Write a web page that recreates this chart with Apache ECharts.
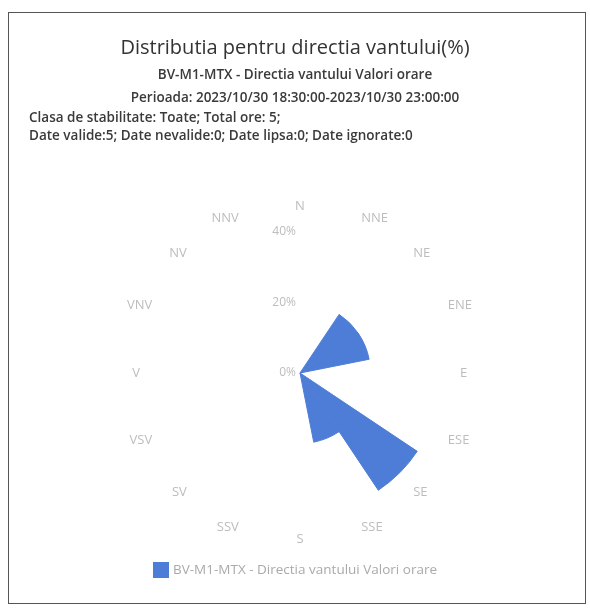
<!DOCTYPE html>
<html>
<head>
<meta charset="utf-8">
<script src="https://cdn.jsdelivr.net/npm/echarts@6/dist/echarts.min.js"></script>
<style>
html,body{margin:0;padding:0;background:#fff;}
#frame{position:absolute;left:8px;top:12px;width:576px;height:590px;border:1.5px solid #555;}
#chart{position:absolute;left:0;top:0;width:590px;height:612px;}
</style>
</head>
<body>
<div id="frame"></div>
<div id="chart"></div>
<script>
const directions = ['N','NNE','NE','ENE','E','ESE','SE','SSE','S','SSV','SV','VSV','V','VNV','NV','NNV'];
const frequency = [0,0,20,20,0,0,40,20,0,0,0,0,0,0,0,0];
const radiusTicks = [0,20,40];
const seriesName = 'BV-M1-MTX - Directia vantului Valori orare';
const titleText = 'Distributia pentru directia vantului(%)';
const infoLines = [
  'BV-M1-MTX - Directia vantului Valori orare',
  'Perioada: 2023/10/30 18:30:00-2023/10/30 23:00:00',
  'Clasa de stabilitate: Toate; Total ore: 5;',
  'Date valide:5; Date nevalide:0; Date lipsa:0; Date ignorate:0'
];

const chart = echarts.init(document.getElementById('chart'), null, {renderer:'canvas'});
const font = '"Open Sans", "Noto Sans", sans-serif';
const info = {fontSize:13.5, fontWeight:600, color:'#3a3a3a', fontFamily:font};
chart.setOption({
  animation:false,
  textStyle:{fontFamily:font},
  title:[
    {text:titleText, left:'center', top:33, textStyle:{fontSize:20, fontWeight:'normal', color:'#333', fontFamily:font}},
    {text:infoLines[0], left:'center', top:63, textStyle:info},
    {text:infoLines[1], left:'center', top:86, textStyle:info},
    {text:infoLines[2], left:24, top:106, textStyle:info},
    {text:infoLines[3], left:24, top:124, textStyle:info}
  ],
  legend:{
    bottom:29, left:'center', icon:'rect', itemWidth:14, itemHeight:14, itemGap:5,
    textStyle:{color:'#aaa', fontSize:13.5, fontFamily:font},
    data:[seriesName]
  },
  polar:{center:[300,373], radius:141},
  angleAxis:{
    type:'category', data:directions, boundaryGap:false, startAngle:90, clockwise:true,
    axisLine:{show:false}, axisTick:{show:false}, splitLine:{show:false},
    axisLabel:{color:'#bdbdbd', fontSize:13, margin:19, fontFamily:font}
  },
  radiusAxis:{
    min:0, max:40, interval:20,
    axisLine:{show:false}, axisTick:{show:false}, splitLine:{show:false},
    axisLabel:{color:'#bdbdbd', fontSize:12, margin:4, formatter:'{value}%', fontFamily:font}
  },
  series:[{
    type:'bar', name:seriesName, coordinateSystem:'polar',
    data:frequency, barCategoryGap:'0%',
    itemStyle:{color:'#4d7dd6', borderColor:'#4d7dd6', borderWidth:1}
  }]
});
</script>
</body>
</html>
